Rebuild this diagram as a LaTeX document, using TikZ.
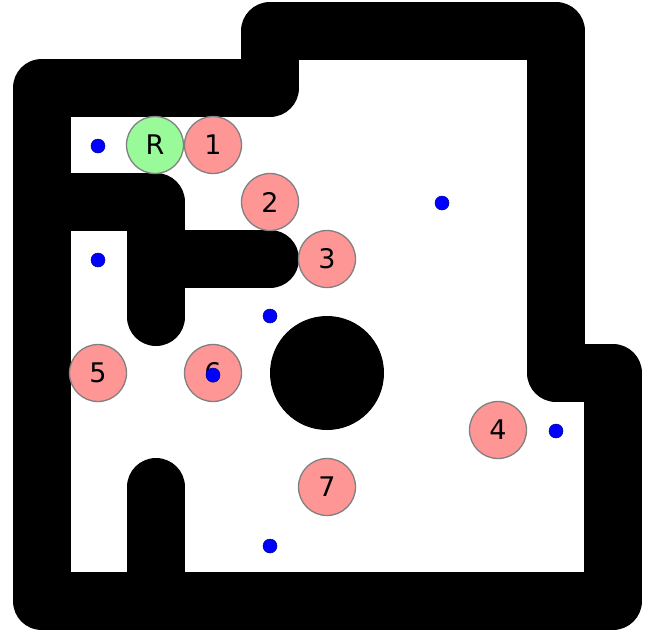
\documentclass[tikz,border=0pt]{standalone}
\usepackage{fontspec}
\setmainfont{DejaVu Sans}
\definecolor{robotgreen}{RGB}{152,250,152}
\definecolor{goalpink}{RGB}{255,150,150}
\begin{document}
\begin{tikzpicture}[x=1pt,y=-1pt,
  wall/.style={line width=58pt,line cap=round,line join=round,draw=black},
  agent/.style={circle,draw=gray,line width=1.3pt,minimum size=57pt,inner sep=0pt,font=\fontsize{27}{27}\selectfont},
  robot/.style={agent,fill=robotgreen},
  goal/.style={agent,fill=goalpink},
  tgt/.style={circle,fill=blue,draw=blue!60!black,line width=0.5pt,minimum size=14pt,inner sep=0pt}]
\useasboundingbox (0,0) rectangle (654,633);
% walls
\draw[wall] (41.5,88) -- (270,88) -- (270,31) -- (556,31) -- (556,373) -- (613,373) -- (613,601) -- (41.5,601) -- cycle;
\draw[wall] (70,202) -- (156,202) -- (156,317);
\draw[wall] (156,259) -- (270,259);
\draw[wall] (156,487) -- (156,580);
\fill (327,373) circle (57);
% agents
\node[robot] (r) at (155,145) {R};
\node[goal] (g1) at (213,145) {1};
\node[goal] (g2) at (270,202) {2};
\node[goal] (g3) at (327,259) {3};
\node[goal] (g4) at (498,430) {4};
\node[goal] (g5) at (98,373) {5};
\node[goal] (g6) at (213,373) {6};
\node[goal] (g7) at (327,487) {7};
% targets
\node[tgt] (t1) at (98,146) {};
\node[tgt] (t2) at (98,260) {};
\node[tgt] (t3) at (442,203) {};
\node[tgt] (t4) at (270,316) {};
\node[tgt] (t5) at (213,375) {};
\node[tgt] (t6) at (556,431) {};
\node[tgt] (t7) at (270,546) {};
\end{tikzpicture}
\end{document}
